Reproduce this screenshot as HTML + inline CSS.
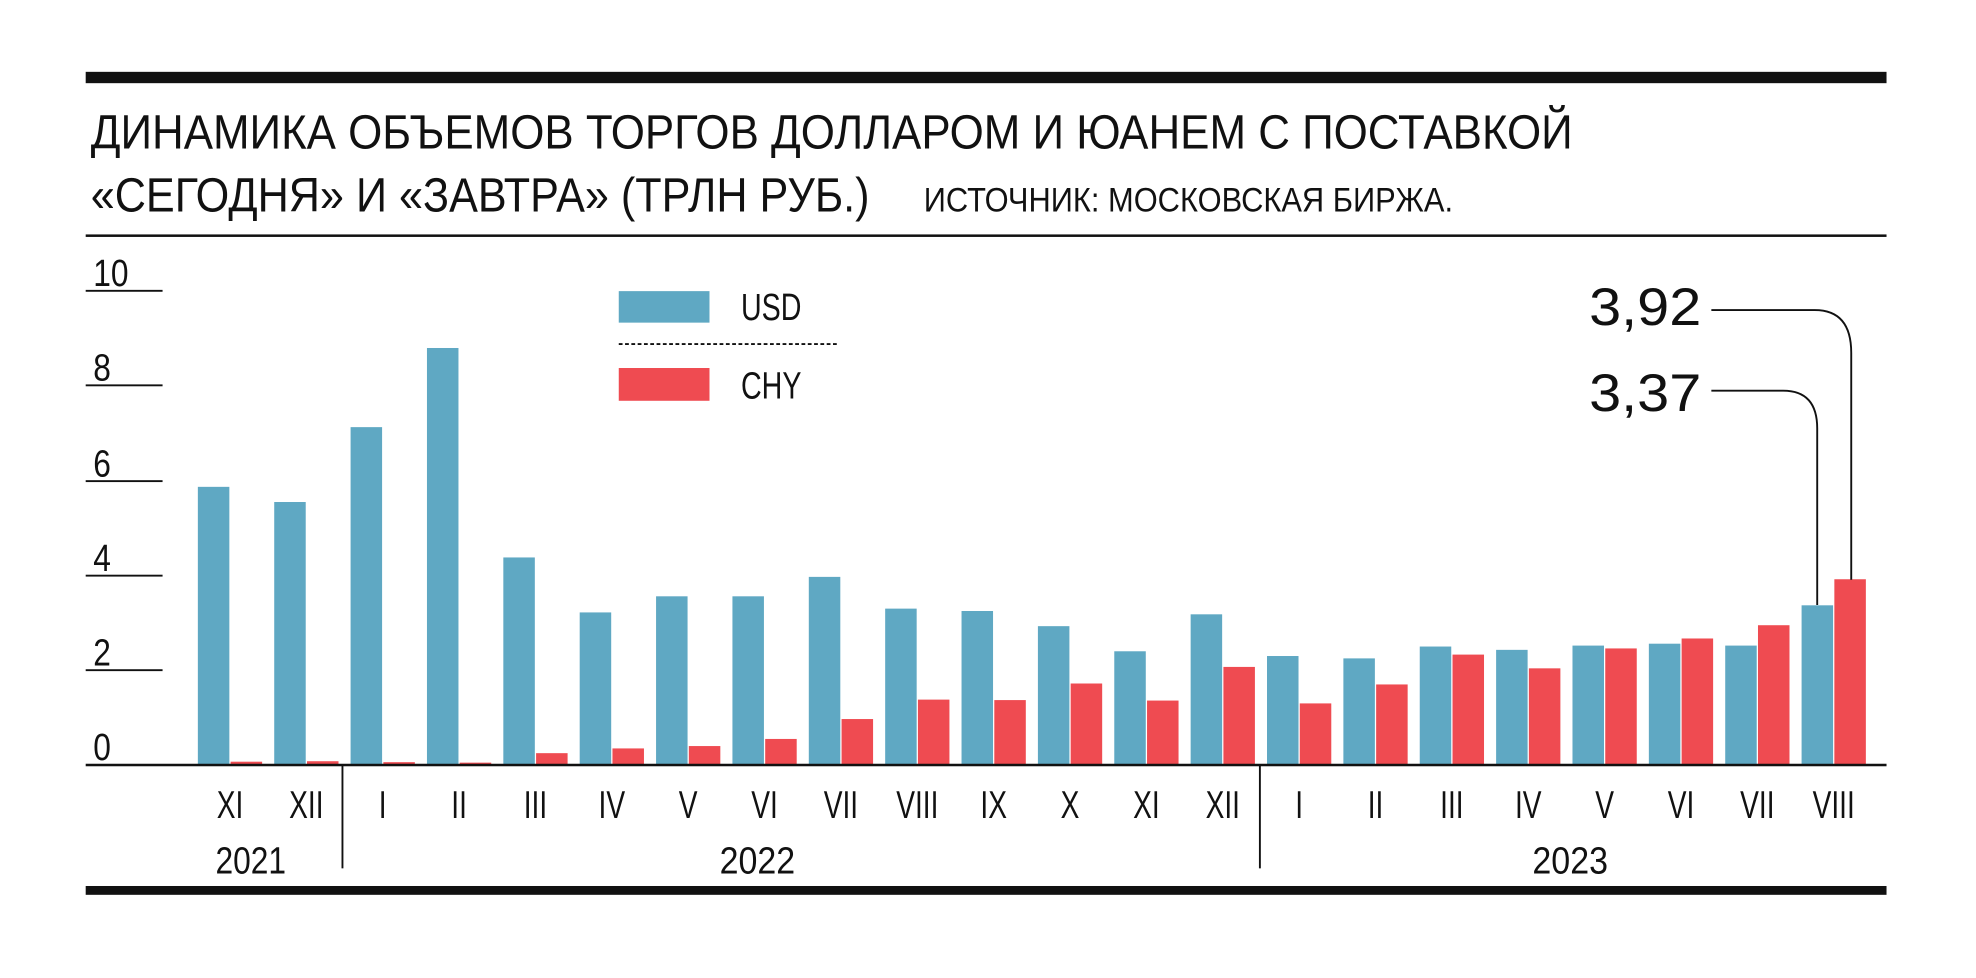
<!DOCTYPE html>
<html><head><meta charset="utf-8"><style>
html,body{margin:0;padding:0;background:#fff;}
svg{display:block}
text{font-family:"Liberation Sans",sans-serif;fill:#111}
</style></head><body>
<svg width="1976" height="978" viewBox="0 0 1568 776" preserveAspectRatio="none" xmlns="http://www.w3.org/2000/svg">
<rect x="68" y="57" width="1429" height="9" fill="#111"/>
<text x="72" y="118" font-size="38" textLength="1176" lengthAdjust="spacingAndGlyphs">ДИНАМИКА ОБЪЕМОВ ТОРГОВ ДОЛЛАРОМ И ЮАНЕМ С ПОСТАВКОЙ</text>
<text x="72" y="168" font-size="38" textLength="618" lengthAdjust="spacingAndGlyphs">«СЕГОДНЯ» И «ЗАВТРА» (ТРЛН РУБ.)</text>
<text x="733" y="168" font-size="27" textLength="420" lengthAdjust="spacingAndGlyphs">ИСТОЧНИК: МОСКОВСКАЯ БИРЖА.</text>
<rect x="68" y="186" width="1429" height="2" fill="#111"/>
<g fill="#111">
<rect x="68" y="230" width="61" height="1.5"/><rect x="68" y="305" width="61" height="1.5"/>
<rect x="68" y="381" width="61" height="1.5"/><rect x="68" y="456" width="61" height="1.5"/>
<rect x="68" y="531" width="61" height="1.5"/>
</g>
<g font-size="30">
<text x="74" y="227" textLength="28" lengthAdjust="spacingAndGlyphs">10</text>
<text x="74" y="302" textLength="14" lengthAdjust="spacingAndGlyphs">8</text>
<text x="74" y="378" textLength="14" lengthAdjust="spacingAndGlyphs">6</text>
<text x="74" y="453" textLength="14" lengthAdjust="spacingAndGlyphs">4</text>
<text x="74" y="528" textLength="14" lengthAdjust="spacingAndGlyphs">2</text>
<text x="74" y="603" textLength="14" lengthAdjust="spacingAndGlyphs">0</text>
</g>
<g id="bars"></g>
<rect x="68" y="606" width="1429" height="2" fill="#111"/>
<rect x="491" y="231" width="72" height="25" fill="#5fa8c3"/>
<text x="588" y="254" font-size="30" textLength="48" lengthAdjust="spacingAndGlyphs">USD</text>
<line x1="491" y1="273" x2="665" y2="273" stroke="#111" stroke-width="1.5" stroke-dasharray="3,2"/>
<rect x="491" y="292" width="72" height="26" fill="#ef4b51"/>
<text x="588" y="316" font-size="30" textLength="48" lengthAdjust="spacingAndGlyphs">CHY</text>
<text x="1261" y="258" font-size="42" textLength="89" lengthAdjust="spacingAndGlyphs">3,92</text>
<text x="1261" y="326" font-size="42" textLength="89" lengthAdjust="spacingAndGlyphs">3,37</text>
<path d="M1358 246 H1440 Q1469 246 1469 280 V460" fill="none" stroke="#111" stroke-width="1.5"/>
<path d="M1358 310 H1415 Q1442 310 1442 340 V480" fill="none" stroke="#111" stroke-width="1.5"/>
<rect x="271" y="607" width="1.5" height="82" fill="#111"/>
<rect x="999" y="607" width="1.5" height="82" fill="#111"/>
<g id="labels" font-size="31" text-anchor="middle"></g>
<g font-size="30" text-anchor="middle">
<text x="199" y="693" textLength="56" lengthAdjust="spacingAndGlyphs">2021</text>
<text x="601" y="693" textLength="60" lengthAdjust="spacingAndGlyphs">2022</text>
<text x="1246" y="693" textLength="60" lengthAdjust="spacingAndGlyphs">2023</text>
</g>
<rect x="68" y="703" width="1429" height="7" fill="#111"/>
</svg>
<script>
var usd=[5.87,5.55,7.13,8.8,4.38,3.22,3.56,3.56,3.97,3.3,3.25,2.93,2.4,3.18,2.3,2.25,2.5,2.43,2.52,2.56,2.52,3.37];
var chy=[0.07,0.08,0.06,0.05,0.25,0.35,0.4,0.55,0.97,1.38,1.37,1.72,1.36,2.07,1.3,1.7,2.33,2.04,2.46,2.67,2.95,3.92];
var m=["XI","XII","I","II","III","IV","V","VI","VII","VIII","IX","X","XI","XII","I","II","III","IV","V","VI","VII","VIII"];
var ns="http://www.w3.org/2000/svg",b=document.getElementById("bars"),l=document.getElementById("labels");
for(var i=0;i<22;i++){var x=157+i*60.6;
function r(x,v,c){var e=document.createElementNS(ns,"rect");var h=v*37.6;e.setAttribute("x",x);e.setAttribute("y",607-h);e.setAttribute("width",25);e.setAttribute("height",h);e.setAttribute("fill",c);b.appendChild(e);}
r(x,usd[i],"#5fa8c3");r(x+26,chy[i],"#ef4b51");
var t=document.createElementNS(ns,"text");t.setAttribute("x",x+25.5);t.setAttribute("y",649);t.setAttribute("transform","translate("+(x+25.5)+",0) scale(0.72,1) translate("+(-(x+25.5))+",0)");t.textContent=m[i];l.appendChild(t);}
</script>
</body></html>
